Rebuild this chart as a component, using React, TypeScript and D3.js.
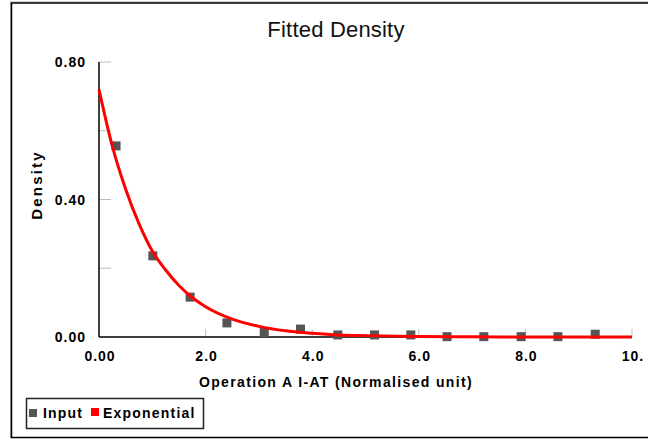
import React from "react";
import * as d3 from "d3";

const inputX = [0.32, 1.01, 1.71, 2.40, 3.10, 3.78, 4.48, 5.17, 5.85, 6.53, 7.22, 7.92, 8.61, 9.31];
const inputY = [0.556, 0.236, 0.116, 0.041, 0.013, 0.023, 0.006, 0.006, 0.006, 0.001, 0.001, 0.001, 0.001, 0.008];

const expX = [0, 0.25, 0.5, 0.75, 1.0, 1.25, 1.5, 1.75, 2.0, 2.5, 3.0, 3.5, 4.0, 4.5, 5.0, 6.0, 7.0, 8.0, 9.0, 10.0];
const expY = [0.72, 0.555, 0.43, 0.33, 0.25, 0.195, 0.15, 0.115, 0.088, 0.052, 0.031, 0.018, 0.011, 0.006, 0.004, 0.0015, 0.0006, 0.0002, 0.0001, 0.0];

const xTicks = [0, 2, 4, 6, 8, 10];
const xTickLabels = ["0.00", "2.0", "4.0", "6.0", "8.0", "10."];
const yTicks = [0, 0.2, 0.4, 0.6, 0.8];
const yTickLabels = ["0.00", "", "0.40", "", "0.80"];

const W = 648;
const H = 439;
const L = 99, R = 632, T = 62, B = 337;
const FONT = "'Liberation Sans', Arial, sans-serif";

export default function App() {
  const x = d3.scaleLinear().domain([0, 10]).range([L, R]);
  const y = d3.scaleLinear().domain([0, 0.8]).range([B, T]);
  const line = d3
    .line<number>()
    .x((_, i) => x(expX[i]))
    .y((d) => y(d))
    .curve(d3.curveMonotoneX);

  return (
    <svg
      width={W}
      height={H}
      style={{ position: "absolute", left: 0, top: 0, background: "#fff" }}
      fontFamily={FONT}
    >
      {/* outer frame */}
      <line x1={10.5} y1={2} x2={10.5} y2={438} stroke="#aaa" strokeWidth={1} />
      <line x1={10} y1={2} x2={W} y2={2} stroke="#aaa" strokeWidth={1} />
      <rect x={11.5} y={3} width={W} height={434.5} fill="none" stroke="#000" strokeWidth={1.5} />

      {/* title */}
      <text x={336} y={37} textAnchor="middle" fontSize={22} fill="#111" letterSpacing={0.2}>
        Fitted Density
      </text>

      {/* y ticks */}
      {yTicks.map((t, i) => (
        <g key={"y" + i}>
          {t > 0 && <line x1={L} x2={L + 12} y1={y(t)} y2={y(t)} stroke="#c0c0c0" strokeWidth={1} />}
          {yTickLabels[i] && (
            <text x={86} y={y(t)} dy="0.36em" textAnchor="end" fontSize={14} fontWeight="bold" letterSpacing={1} fill="#000">
              {yTickLabels[i]}
            </text>
          )}
        </g>
      ))}

      {/* x ticks */}
      {xTicks.map((t, i) => (
        <g key={"x" + i}>
          {t > 0 && <line x1={x(t)} x2={x(t)} y1={B} y2={B - 8} stroke="#c0c0c0" strokeWidth={1} />}
          <text x={x(t) + 1} y={361} textAnchor="middle" fontSize={14} fontWeight="bold" letterSpacing={1} fill="#000">
            {xTickLabels[i]}
          </text>
        </g>
      ))}

      {/* axes */}
      <line x1={L} x2={L} y1={T} y2={B} stroke="#000" strokeWidth={1.5} />
      <line x1={L} x2={R} y1={B} y2={B} stroke="#000" strokeWidth={1.5} />

      {/* input points */}
      {inputX.map((v, i) => (
        <rect key={"p" + i} x={x(v) - 4.5} y={y(inputY[i]) - 4.5} width={9} height={9} fill="#555" />
      ))}

      {/* exponential */}
      <path d={line(expY) || ""} fill="none" stroke="#ff0000" strokeWidth={3} />

      {/* axis labels */}
      <text x={336} y={387} textAnchor="middle" fontSize={14} fontWeight="bold" letterSpacing={1.35} fill="#000">
        Operation A I-AT (Normalised unit)
      </text>
      <text
        transform={`translate(42,185) rotate(-90)`}
        textAnchor="middle"
        fontSize={15}
        fontWeight="bold"
        letterSpacing={2.2}
        fill="#000"
      >
        Density
      </text>

      {/* legend */}
      <rect x={26.5} y={398.5} width={177} height={30} fill="#fff" stroke="#222" strokeWidth={1.5} />
      <rect x={29} y={409} width={8} height={8} fill="#555" />
      <text x={43} y={418} fontSize={14} fontWeight="bold" letterSpacing={1.2} fill="#000">Input</text>
      <rect x={91} y={408} width={8} height={8} fill="#ff0000" />
      <text x={103} y={418} fontSize={14} fontWeight="bold" letterSpacing={1.2} fill="#000">Exponential</text>
    </svg>
  );
}
